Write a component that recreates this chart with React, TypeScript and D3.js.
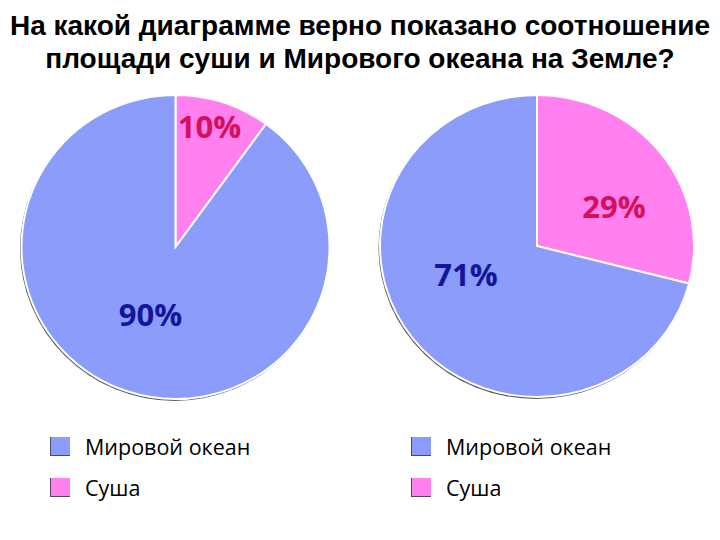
import React from "react";
import * as d3 from "d3";

const categories = ["Мировой океан", "Суша"];
const pieA = [90, 10];
const pieB = [71, 29];
const pieLabelsA = ["90%", "10%"];
const pieLabelsB = ["71%", "29%"];
const titleLines = [
  "На какой диаграмме верно показано соотношение",
  "площади суши и Мирового океана на Земле?",
];

const fills = ["#8b9cfa", "#ff80ee"];
const labelColors = ["#14169a", "#d4105c"];

type PieProps = {
  cx: number;
  cy: number;
  rx: number;
  ry: number;
  values: number[];
  labels: string[];
  labelPos: [number, number][];
};

function Pie({ cx, cy, rx, ry, values, labels, labelPos }: PieProps) {
  const order = [1, 0];
  const pie = d3
    .pie<number>()
    .sort(null)
    .value((i) => values[i]);
  const arcs = pie(order);
  const arc = d3.arc<d3.PieArcDatum<number>>().innerRadius(0).outerRadius(rx);
  return (
    <g>
      <g transform={`translate(${cx},${cy}) scale(1,${ry / rx})`}>
        <ellipse cx={-1} cy={1.5} rx={rx + 0.5} ry={rx + 0.5} fill="#333" opacity={0.8} />
        {arcs.map((a) => (
          <path
            key={a.data}
            d={arc(a) || ""}
            fill={fills[a.data]}
            stroke="#ffffff"
            strokeWidth={2}
            vectorEffect="non-scaling-stroke"
          />
        ))}
      </g>
      {order.map((i) => (
        <text
          key={i}
          x={cx + labelPos[i][0]}
          y={cy + labelPos[i][1]}
          textAnchor="middle"
          fontFamily="'Open Sans', 'Noto Sans', sans-serif"
          fontWeight={700}
          fontSize={31}
          fill={labelColors[i]}
        >
          {labels[i]}
        </text>
      ))}
    </g>
  );
}

function Legend({ x, y }: { x: number; y: number }) {
  return (
    <g>
      {categories.map((c, i) => (
        <g key={c} transform={`translate(${x},${y + i * 41})`}>
          <rect x={0} y={0} width={20} height={19} fill="#4a4a60" />
          <rect x={1} y={0} width={19} height={18} fill={fills[i]} />
          <text
            x={35}
            y={18}
            fontFamily="'Open Sans', 'Noto Sans', sans-serif"
            fontSize={21.5}
            fill="#000"
          >
            {c}
          </text>
        </g>
      ))}
    </g>
  );
}

export default function App() {
  return (
    <svg
      width={720}
      height={540}
      style={{ position: "absolute", left: 0, top: 0, background: "#fff" }}
    >
      <rect width={720} height={540} fill="#fff" />
      {titleLines.map((t, i) => (
        <text
          key={i}
          x={360}
          y={35 + i * 33}
          textAnchor="middle"
          fontFamily="Liberation Sans, Arial, Helvetica, sans-serif"
          fontWeight={700}
          fontSize={28}
          fill="#000"
        >
          {t}
        </text>
      ))}
      <Pie
        cx={175.5}
        cy={247}
        rx={154}
        ry={152}
        values={pieA}
        labels={pieLabelsA}
        labelPos={[
          [-25, 79],
          [34, -109],
        ]}
      />
      <Pie
        cx={537}
        cy={246}
        rx={157}
        ry={151}
        values={pieB}
        labels={pieLabelsB}
        labelPos={[
          [-71, 40],
          [77, -28],
        ]}
      />
      <Legend x={50} y={437} />
      <Legend x={411} y={437} />
    </svg>
  );
}
